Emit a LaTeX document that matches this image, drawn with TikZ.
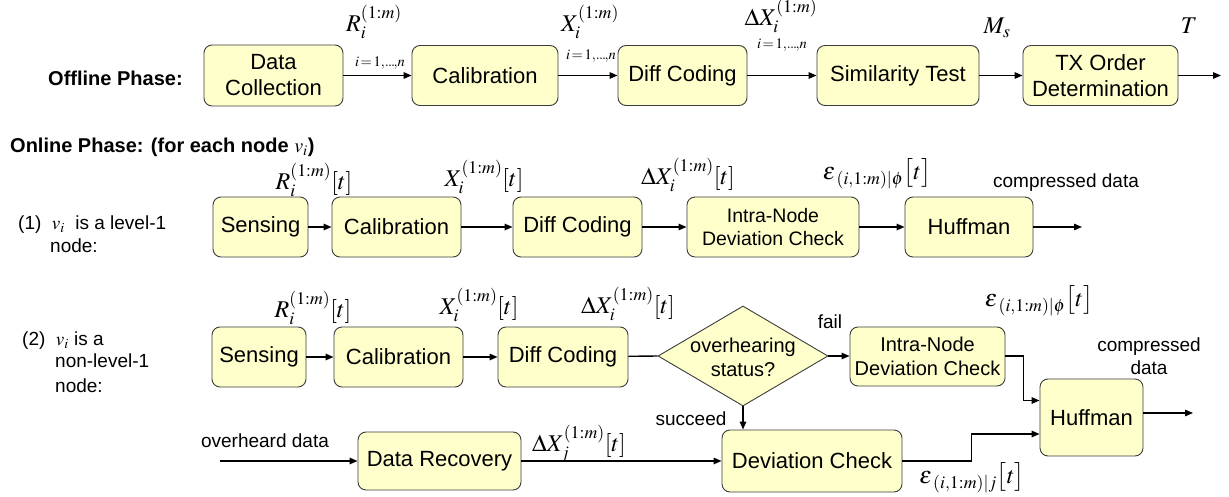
\documentclass[tikz,border=0pt]{standalone}
\usepackage{mathptmx}
\usepackage[no-math]{fontspec}
\setmainfont{Liberation Sans}
\usetikzlibrary{arrows.meta,shapes.geometric,calc}
\definecolor{boxfill}{RGB}{255,255,204}
\definecolor{boxline}{RGB}{60,60,60}
\newcommand{\ionen}{$i\!=\!1,\!.\mkern-1mu.\mkern-1mu.\!,\!n$}
\begin{document}
\begin{tikzpicture}[x=1pt,y=-1pt,
  box/.style={draw=boxline, line width=0.9pt, fill=boxfill, rounded corners=8pt, inner sep=0pt, align=center, font=\fontsize{22}{26}\selectfont},
  smallbox/.style={box, font=\fontsize{19.5}{23}\selectfont},
  dia/.style={draw=boxline, line width=0.9pt, fill=boxfill, shape=diamond, inner sep=0pt, minimum width=170pt, minimum height=100pt},
  arr/.style={line width=1.4pt, -{Triangle[length=8pt,width=6.5pt]}},
  ln/.style={line width=1.4pt},
  mlab/.style={font=\fontsize{24}{28}\selectfont, inner sep=0pt},
  slab/.style={font=\fontsize{14.5}{16}\selectfont, inner sep=0pt},
  txt/.style={font=\fontsize{19}{23}\selectfont, inner sep=0pt, align=center},
  ltxt/.style={font=\fontsize{19}{23}\selectfont, inner sep=0pt, anchor=west},
  head/.style={font=\fontsize{20}{24}\selectfont\bfseries, inner sep=0pt, anchor=west}]
\useasboundingbox (0,0) rectangle (1229,497);

% ---------------- Offline phase ----------------
\node[head] (offh) at (48,78) {Offline Phase:};
\node[box, minimum width=139pt, minimum height=61pt] (dc) at (273.5,75.5) {Data\\Collection};
\node[box, minimum width=146pt, minimum height=60pt] (cal1) at (485,75.5) {Calibration};
\node[box, minimum width=129pt, minimum height=60pt] (diff1) at (682.5,75.5) {Diff Coding};
\node[box, minimum width=162pt, minimum height=60pt] (sim) at (898,75.5) {Similarity Test};
\node[box, minimum width=155pt, minimum height=60pt] (tx) at (1100.5,75.5) {TX Order\\Determination};
\coordinate (txout) at (1221,75.5);
\draw[arr] (dc) -- (cal1);
\draw[arr] (cal1) -- (diff1);
\draw[arr] (diff1) -- (sim);
\draw[arr] (sim) -- (tx);
\draw[arr] (tx) -- (txout);

\node[mlab] (lR1) at (374,22) {$R_i^{(1:m)}$};
\node[slab] (lR1s) at (380,63) {\ionen};
\node[mlab] (lX1) at (590,22) {$X_i^{(1:m)}$};
\node[slab] (lX1s) at (591,56) {\ionen};
\node[mlab] (lD1) at (781,16) {$\Delta X_i^{(1:m)}$};
\node[slab] (lD1s) at (782,45) {\ionen};
\node[mlab] (lM) at (997,28) {$M_s$};
\node[mlab] (lT) at (1189,26) {$T$};

% ---------------- Online phase ----------------
\node[head] (onh) at (10,147) {Online Phase: (for each node {\mdseries$v_i$})};

% row 1
\node[ltxt] (r1a) at (18,225) {(1)\ \ $v_i$\ \ is a level-1};
\node[ltxt] (r1b) at (50,246) {node:};
\node[box, minimum width=95pt, minimum height=60pt] (sens1) at (260.5,227) {Sensing};
\node[box, minimum width=129pt, minimum height=60pt] (cal2) at (396.5,227) {Calibration};
\node[box, minimum width=129pt, minimum height=60pt] (diff2) at (577.5,227) {Diff Coding};
\node[smallbox, minimum width=172pt, minimum height=60pt] (intra1) at (773,227) {Intra-Node\\Deviation Check};
\node[box, minimum width=128pt, minimum height=60pt] (huff1) at (969,227) {Huffman};
\coordinate (h1out) at (1082,227);
\draw[arr] (sens1) -- (cal2);
\draw[arr] (cal2) -- (diff2);
\draw[arr] (diff2) -- (intra1);
\draw[arr] (intra1) -- (huff1);
\draw[arr] (huff1) -- (h1out);

\node[mlab] (lR2) at (314,180) {$R_i^{(1:m)}[t]$};
\node[mlab] (lX2) at (484,177) {$X_i^{(1:m)}[t]$};
\node[mlab] (lD2) at (688,175) {$\Delta X_i^{(1:m)}[t]$};
\node[mlab] (lE2) at (877,174) {$\varepsilon\mkern1mu_{(i,1:m)|\phi}\big[t\big]$};
\node[txt] (lc1) at (1066,183) {compressed data};

% row 2
\node[ltxt] (r2a) at (22,341) {(2)\ \ $v_i$ is a};
\node[ltxt] (r2b) at (55,361) {non-level-1};
\node[ltxt] (r2c) at (55,386) {node:};
\node[box, minimum width=94pt, minimum height=60pt] (sens2) at (259,357) {Sensing};
\node[box, minimum width=129pt, minimum height=60pt] (cal3) at (398.5,357) {Calibration};
\node[box, minimum width=130pt, minimum height=60pt] (diff3) at (563,357) {Diff Coding};
\node[dia] (ov) at (743,356) {};
\node[txt, font=\fontsize{20}{24}\selectfont] (ovt) at (743,357) {overhearing\\status?};
\node[smallbox, font=\fontsize{20}{24}\selectfont, minimum width=155pt, minimum height=59pt] (intra2) at (927.5,356.5) {Intra-Node\\Deviation Check};
\node[box, minimum width=103pt, minimum height=77pt] (huff2) at (1091.5,417.5) {Huffman};
\coordinate (h2out) at (1193,413);
\draw[arr] (sens2) -- (cal3);
\draw[arr] (cal3) -- (diff3);
\draw[ln] (diff3) -- (ov.west);
\draw[arr] (ov.east) -- (ov.east -| intra2.west);
\draw[arr] (intra2.east |- ov.east) -- ++(18,0) |- ($(huff2.west)+(0,-17)$);
\draw[arr] (huff2.east |- h2out) -- (h2out);

\node[mlab] (lR3) at (313,308) {$R_i^{(1:m)}[t]$};
\node[mlab] (lX3) at (479,305) {$X_i^{(1:m)}[t]$};
\node[mlab] (lD3) at (628,304) {$\Delta X_i^{(1:m)}[t]$};
\node[mlab] (lE3) at (1039,301) {$\varepsilon\mkern1mu_{(i,1:m)|\phi}\big[t\big]$};
\node[txt] (fail) at (830,322) {fail};
\node[txt] (lc2) at (1149,356) {compressed\\data};

% row 3
\node[box, minimum width=180pt, minimum height=62pt] (dev) at (812,461) {Deviation Check};
\node[box, minimum width=163pt, minimum height=58pt] (dr) at (439.5,461) {Data Recovery};
\coordinate (ovin) at (220,461);
\draw[arr] (ovin) -- (dr);
\draw[arr] (dr) -- (dev);
\draw[arr] (ov.south) -- (ov.south |- dev.north);
\draw[arr] (dev.east) -- ++(69,0) |- ($(huff2.west)+(0,16.5)$);

\node[txt] (succ) at (691,419) {succeed};
\node[txt] (ovd) at (265,441) {overheard data};
\node[mlab] (lDj) at (579,444) {$\Delta X_j^{(1:m)}[t]$};
\node[mlab] (lEj) at (972,478) {$\varepsilon\mkern1mu_{(i,1:m)|j}\big[t\big]$};
\end{tikzpicture}
\end{document}
